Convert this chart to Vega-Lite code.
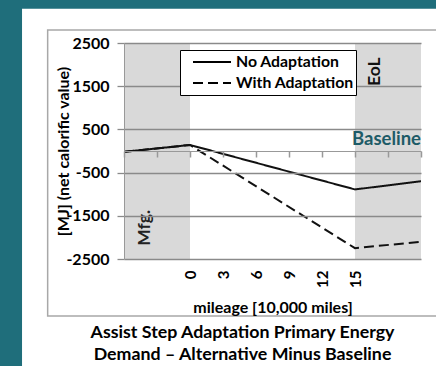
{
  "$schema": "https://vega.github.io/schema/vega-lite/v6.json",
  "width": 297,
  "height": 216,
  "autosize": "none",
  "padding": {"left": 124, "top": 43, "right": 15, "bottom": 107},
  "background": "#1f6e7b",
  "config": {"font": "Lato", "view": {"stroke": null}},
  "title": {
    "text": ["Assist Step Adaptation Primary Energy", "Demand – Alternative Minus Baseline"],
    "orient": "bottom", "anchor": "middle", "frame": "group", "dx": -30, "offset": -42,
    "baseline": "top", "fontSize": 17.8, "fontWeight": "bold", "color": "#000", "lineHeight": 22
  },
  "datasets": {
    "zones": [
      {"zone": "Mfg.", "start": -6, "end": 0},
      {"zone": "EoL", "start": 15, "end": 21}
    ],
    "series": [
      {"mileage": -6, "value": -20, "scenario": "No Adaptation"},
      {"mileage": 0, "value": 140, "scenario": "No Adaptation"},
      {"mileage": 15, "value": -890, "scenario": "No Adaptation"},
      {"mileage": 21, "value": -700, "scenario": "No Adaptation"},
      {"mileage": -6, "value": -20, "scenario": "With Adaptation"},
      {"mileage": 0, "value": 140, "scenario": "With Adaptation"},
      {"mileage": 15, "value": -2250, "scenario": "With Adaptation"},
      {"mileage": 21, "value": -2100, "scenario": "With Adaptation"}
    ]
  },
  "layer": [
    {
      "data": {"values": [{}]},
      "mark": {"type": "rect", "fill": "white", "clip": false},
      "encoding": {
        "x": {"datum": -15.27, "type": "quantitative", "scale": {"domain": [-6, 21], "nice": false, "zero": false}, "axis": null},
        "x2": {"datum": 23},
        "y": {"datum": 3290, "type": "quantitative", "scale": {"domain": [-2500, 2500], "nice": false, "zero": false}, "axis": null},
        "y2": {"datum": -4977}
      }
    },
    {
      "data": {"values": [{}]},
      "mark": {"type": "rect", "fill": null, "stroke": "#a8a8a8", "strokeWidth": 1.5, "clip": false},
      "encoding": {
        "x": {"datum": -12.94, "type": "quantitative", "axis": null},
        "x2": {"datum": 23},
        "y": {"datum": 2801, "type": "quantitative", "axis": null},
        "y2": {"datum": -3819}
      }
    },
    {
      "data": {"name": "zones"},
      "mark": {"type": "rect", "color": "#d9d9d9"},
      "encoding": {
        "x": {
          "field": "start", "type": "quantitative",
          "axis": {
            "orient": "bottom", "values": [0, 3, 6, 9, 12, 15], "labelAngle": -90,
            "ticks": false, "domain": false, "grid": false, "labelPadding": 11,
            "labelFlush": false, "labelOverlap": false,
            "labelFontSize": 15, "labelFontWeight": "bold", "labelColor": "#000",
            "title": "mileage [10,000 miles]", "titleFontSize": 16, "titleFontWeight": "bold",
            "titleColor": "#000", "titlePadding": 12, "zindex": 1
          }
        },
        "x2": {"field": "end"}
      }
    },
    {
      "data": {"name": "series"},
      "mark": {"type": "line", "color": "#111", "strokeWidth": 2},
      "encoding": {
        "x": {
          "field": "mileage", "type": "quantitative",
          "axis": {
            "orient": "bottom", "offset": -108, "values": [-6, -3, 0, 3, 6, 9, 12, 15, 18, 21],
            "labels": false, "grid": false, "domain": true, "domainColor": "#999", "domainWidth": 1,
            "ticks": true, "tickColor": "#999", "tickSize": 6, "tickWidth": 1.5, "title": null, "zindex": 1
          }
        },
        "y": {
          "field": "value", "type": "quantitative",
          "axis": {
            "orient": "left",
            "values": [-2500, -1500, -500, 500, 1500, 2500], "labelExpr": "datum.value + ''",
            "grid": true, "gridColor": "#8a8a8a",
            "gridWidth": 1.3, "domain": true, "domainColor": "#999", "ticks": true, "tickColor": "#8a8a8a",
            "tickSize": 7, "tickWidth": 1.3, "labelFontSize": 16, "labelFontWeight": "bold", "labelColor": "#000",
            "labelPadding": 8, "title": "[MJ] (net calorific value)", "titleFontSize": 16,
            "titleFontWeight": "bold", "titleColor": "#000", "titleX": -61, "titleY": 108,
            "titleAngle": 270, "titleAlign": "center", "titleBaseline": "middle", "zindex": 1
          }
        },
        "strokeDash": {
          "field": "scenario", "type": "nominal",
          "scale": {"domain": ["No Adaptation", "With Adaptation"], "range": [[1, 0], [10, 5]]},
          "legend": {
            "title": null, "orient": "none", "legendX": 56, "legendY": 7, "zindex": 3,
            "fillColor": "white", "strokeColor": "#000", "padding": 2, "symbolOffset": 10,
            "symbolType": "stroke", "symbolSize": 1444, "symbolStrokeWidth": 2,
            "symbolStrokeColor": "#000", "labelOffset": 4, "labelFontSize": 15.8,
            "labelFontWeight": "bold", "labelColor": "#000", "rowPadding": 1, "clipHeight": 20
          }
        }
      }
    },
    {
      "data": {"values": [{}]},
      "mark": {"type": "text", "text": "Baseline", "align": "right", "baseline": "bottom", "dy": -2, "fontSize": 18.5, "fontWeight": "bold", "color": "#1d5b67"},
      "encoding": {
        "x": {"datum": 21, "type": "quantitative", "axis": null},
        "y": {"datum": 0, "type": "quantitative", "axis": null}
      }
    },
    {
      "data": {"values": [{}]},
      "mark": {"type": "text", "text": "Mfg.", "angle": 270, "align": "center", "baseline": "middle", "fontSize": 17.5, "fontWeight": "bold", "color": "#222"},
      "encoding": {
        "x": {"datum": -4.1, "type": "quantitative", "axis": null},
        "y": {"datum": -1780, "type": "quantitative", "axis": null}
      }
    },
    {
      "data": {"values": [{}]},
      "mark": {"type": "text", "text": "EoL", "angle": 270, "align": "center", "baseline": "middle", "fontSize": 17.5, "fontWeight": "bold", "color": "#111"},
      "encoding": {
        "x": {"datum": 16.8, "type": "quantitative", "axis": null},
        "y": {"datum": 1835, "type": "quantitative", "axis": null}
      }
    }
  ],
  "resolve": {"axis": {"x": "independent", "y": "independent"}}
}
